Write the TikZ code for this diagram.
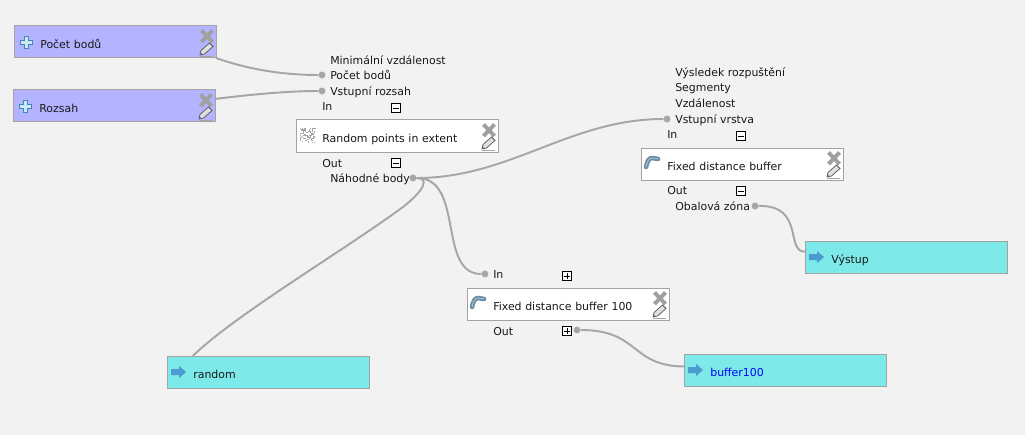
\documentclass[tikz,border=0pt]{standalone}
\usepackage{fontspec}
\setmainfont{DejaVu Sans}
\usetikzlibrary{backgrounds,calc}
\definecolor{canvas}{HTML}{F2F2F2}
\definecolor{frame}{HTML}{A3A3A3}
\definecolor{wire}{HTML}{A6A6A6}
\definecolor{lilac}{HTML}{B3B3FF}
\definecolor{cyan}{HTML}{7DE9E9}
\definecolor{iconblue}{HTML}{4A9BD0}
\definecolor{iconplus}{HTML}{CFE6F7}
\definecolor{plusline}{HTML}{3F86BC}
\definecolor{boomerang}{HTML}{6F8A9C}
\definecolor{toolgrey}{HTML}{A0A0A0}
\definecolor{linkblue}{HTML}{0000FF}
\tikzset{
  x=0.75pt, y=-0.75pt,
  txt/.style={font=\fontsize{8.2}{10}\selectfont, text=black!90},
  box/.style={txt, draw=frame, line width=0.75pt, minimum width=151.5pt, minimum height=24pt, text width=149pt, inner sep=0pt, outer sep=0pt, align=left, text height=9.8pt, text depth=0pt, execute at begin node={\hspace*{18.5pt}}},
  param/.style={box, fill=lilac},
  algo/.style={box, fill=white},
  result/.style={box, fill=cyan},
  portname/.style={txt, anchor=base west, inner sep=0pt},
  port/.style={circle, fill=wire, draw=none, inner sep=0pt, minimum size=5.2pt},
  link/.style={draw=wire, line width=1.45pt},
  toggle/.style={draw=black, fill=white, line width=0.75pt, inner sep=0pt, minimum size=6.2pt},
  tminus/.style={toggle, path picture={\draw[line width=0.7pt] ([xshift=-2pt]path picture bounding box.center) -- ([xshift=2pt]path picture bounding box.center);}},
  tplus/.style={toggle, path picture={\draw[line width=0.7pt] ([xshift=-2pt]path picture bounding box.center) -- ([xshift=2pt]path picture bounding box.center) ([yshift=-2pt]path picture bounding box.center) -- ([yshift=2pt]path picture bounding box.center);}},
  pics/tools/.style={code={
    \draw[toolgrey, line width=3pt] (-14.5,4.5) -- (-3.5,16) (-14.5,16) -- (-3.5,4.5);
    \draw[draw=black!65, fill=black!12, line width=0.55pt] (-16,29) -- (-15,24.5) -- (-6.5,17) -- (-3,20.5) -- (-11.5,28) -- cycle;
    \fill[black!60] (-16,29) -- (-15.5,26.5) -- (-13.5,28.5) -- cycle;
    \draw[black!35, line width=0.5pt] (-16,30.5) -- (-3,30.5);
  }},
  pics/inicon/.style={code={
    \draw[draw=plusline, fill=iconplus, line width=0.7pt] (-2,-6) -- (2,-6) -- (2,-2) -- (6,-2) -- (6,2) -- (2,2) -- (2,6) -- (-2,6) -- (-2,2) -- (-6,2) -- (-6,-2) -- (-2,-2) -- cycle;
  }},
  pics/outicon/.style={code={
    \fill[iconblue] (-7,-3) -- (1,-3) -- (1,-6) -- (8,0) -- (1,6) -- (1,3) -- (-7,3) -- cycle;
  }},
  pics/bufficon/.style={code={
    \draw[boomerang, line width=3.4pt, line cap=round, line join=round] (-6,5) .. controls (-5,-1) and (-3,-4) .. (0,-4) -- (6,-3);
    \draw[iconblue!60, line width=0.8pt, line cap=round] (-6,5) .. controls (-5,-1) and (-3,-4) .. (0,-4) -- (6,-3);
  }},
  pics/pointsicon/.style={code={
    \pgfmathsetseed{11}
    \foreach \n in {1,...,70} {
      \fill[black!35] ({-7.5+15*rnd},{-7.5+15*rnd}) rectangle +(1.2,1.2);
    }
  }}
}
\begin{document}
\begin{tikzpicture}
\useasboundingbox (0,0) rectangle (1025,435);

\node[param] (pocet) at (115,42) {Počet bodů};
\node[param] (rozsah) at (114,106) {Rozsah};
\node[algo] (randompts) at (397,136) {Random points in extent};
\node[algo] (fixed) at (742,164) {Fixed distance buffer};
\node[algo] (fixedhund) at (568,304) {Fixed distance buffer 100};
\node[result] (random) at (268,372) {random};
\node[result] (vystup) at (906,257) {Výstup};
\node[result, text=linkblue] (bufferhund) at (785,370) {buffer100};

\foreach \b in {pocet,rozsah,randompts,fixed,fixedhund}
  \pic at (\b.north east) {tools};
\foreach \b in {pocet,rozsah}
  \pic at ([xshift=9pt]\b.west) {inicon};
\foreach \b in {random,vystup,bufferhund}
  \pic at ([xshift=8.3pt]\b.west) {outicon};
\foreach \b in {fixed,fixedhund}
  \pic at ([xshift=8.3pt,yshift=1.5pt]\b.west) {bufficon};
\pic at ([xshift=8.3pt,yshift=0.8pt]randompts.west) {pointsicon};

\node[portname] (minvzd) at (330,65) {Minimální vzdálenost};
\node[portname] (pocetin) at (330,80) {Počet bodů};
\node[portname] (rozsahin) at (330,96) {Vstupní rozsah};
\node[portname] (inrandom) at (322,111) {In};
\node[portname] (outrandom) at (322,167) {Out};
\node[portname] (nahodne) at (330,182) {Náhodné body};
\node[portname] (vysledek) at (675,77) {Výsledek rozpuštění};
\node[portname] (segmenty) at (675,92) {Segmenty};
\node[portname] (vzdalenost) at (675,108) {Vzdálenost};
\node[portname] (vrstva) at (675,123) {Vstupní vrstva};
\node[portname] (infixed) at (667,138) {In};
\node[portname] (outfixed) at (667,195) {Out};
\node[portname] (obalova) at (675,210) {Obalová zóna};
\node[portname] (inhund) at (493,278) {In};
\node[portname] (outhund) at (493,335) {Out};

\node[tminus] (togglea) at (396,108) {};
\node[tminus] (toggleb) at (396,163) {};
\node[tminus] (togglec) at (741,136) {};
\node[tminus] (toggled) at (741,191) {};
\node[tplus] (togglee) at (567,276) {};
\node[tplus] (togglef) at (567,331) {};

\node[port] (ppocet) at (322,75) {};
\node[port] (prozsah) at (322,91) {};
\node[port] (pnahodne) at (413,178) {};
\node[port] (pvrstva) at (667,119) {};
\node[port] (pobalova) at (755,206) {};
\node[port] (pinhund) at (485,274) {};
\node[port] (pouthund) at (577,330) {};

\begin{scope}[on background layer]
\fill[canvas] (0,0) rectangle (1025,435);
\draw[link] (pocet.south east) .. controls (250,70) and (285,75) .. (ppocet);
\draw[link] (rozsah.4) .. controls (255,94) and (290,91) .. (prozsah);
\draw[link] (pnahodne) .. controls (510,178) and (570,119) .. (pvrstva);
\draw[link] (pnahodne) .. controls (428,178) and (427,188) .. (403,207) .. controls (340,253) and (235,315) .. (random.168);
\draw[link] (pnahodne) .. controls (465,178) and (437,274) .. (pinhund);
\draw[link] (pobalova) .. controls (805,205) and (785,252) .. (vystup.177);
\draw[link] (pouthund) .. controls (640,330) and (630,366) .. (bufferhund.178);
\end{scope}
\end{tikzpicture}
\end{document}
